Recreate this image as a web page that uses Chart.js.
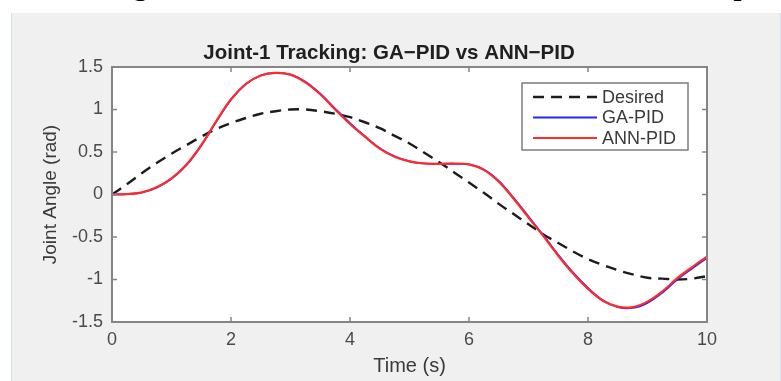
<!DOCTYPE html>
<html>
<head>
<meta charset="utf-8">
<script src="https://cdn.jsdelivr.net/npm/chart.js@4.4.1/dist/chart.umd.min.js"></script>
<style>
html, body { margin: 0; padding: 0; background: #fff; }
body { width: 781px; height: 381px; position: relative; overflow: hidden; }
#caption { position: absolute; left: 0; top: 0; width: 781px; height: 13px; overflow: hidden;
  font-family: "Liberation Serif", "Times New Roman", serif; font-weight: bold; font-size: 28px; line-height: 28px; color: #000; }
#caption span { position: absolute; top: -28px; white-space: nowrap; }
#panel { position: absolute; left: 11px; top: 13px; width: 768px; height: 368px; background: #f0f0f0;
  border-left: 1px solid #d3e0ee; border-right: 1px solid #d3e0ee; }
</style>
</head>
<body>
<div id="caption">
  <span style="left:39px">Tracking</span>
  <span style="left:189px">Error,</span>
  <span style="left:280px">GA,</span>
  <span style="right:32px">and ANN Controller Step</span>
</div>
<div id="panel"><canvas id="trackChart" width="768" height="368"></canvas></div>
<script>
// Joint-1 tracking data (t in s, angle in rad)
const timeS = [0, 0.25, 0.5, 0.75, 1, 1.25, 1.5, 1.75, 2, 2.25, 2.5, 2.75, 3, 3.25, 3.5, 3.75, 4, 4.25, 4.5, 4.75,
	5, 5.25, 5.5, 5.75, 6, 6.25, 6.5, 6.75, 7, 7.25, 7.5, 7.75, 8, 8.25, 8.5, 8.75, 9, 9.25, 9.5, 9.75, 10];
const desired = [0, 0.12, 0.25, 0.37, 0.48, 0.58, 0.68, 0.77, 0.84, 0.90, 0.95, 0.98, 1.0, 1.0, 0.98, 0.95, 0.91, 0.85, 0.78, 0.69,
	0.60, 0.49, 0.38, 0.26, 0.14, 0.02, -0.11, -0.23, -0.35, -0.47, -0.57, -0.67, -0.76, -0.83, -0.89, -0.94, -0.98, -0.99, -1.0, -0.99, -0.96];
const gaPid = [0, 0.004, 0.022, 0.08, 0.185, 0.345, 0.575, 0.855, 1.115, 1.30, 1.40, 1.43, 1.41, 1.325, 1.185, 1.01, 0.84, 0.685, 0.545, 0.45,
	0.39, 0.365, 0.36, 0.36, 0.355, 0.295, 0.16, -0.04, -0.26, -0.48, -0.71, -0.92, -1.10, -1.245, -1.325, -1.335, -1.275, -1.155, -1.0, -0.87, -0.745];
const annPid = [0, 0.005, 0.025, 0.085, 0.19, 0.35, 0.58, 0.86, 1.12, 1.30, 1.40, 1.43, 1.41, 1.32, 1.18, 1.0, 0.83, 0.68, 0.54, 0.445,
	0.39, 0.365, 0.36, 0.365, 0.355, 0.29, 0.15, -0.05, -0.27, -0.49, -0.72, -0.93, -1.11, -1.25, -1.32, -1.325, -1.26, -1.14, -0.985, -0.855, -0.73];
const xTicks = [0, 2, 4, 6, 8, 10];
const xTickLabels = ["0", "2", "4", "6", "8", "10"];
const yTicks = [-1.5, -1, -0.5, 0, 0.5, 1, 1.5];
const yTickLabels = ["-1.5", "-1", "-0.5", "0", "0.5", "1", "1.5"];
const chartTitle = "Joint-1 Tracking: GA\u2212PID vs ANN\u2212PID";

const FONT = '"Liberation Sans", Arial, Helvetica, sans-serif';
const AXIS_GREY = "#858585";

function points(values) {
	return timeS.map((t, i) => ({ x: t, y: values[i] }));
}

// MATLAB style: white axes, box with inward ticks on all sides, title and legend
const matlabFrame = {
	id: "matlabFrame",
	beforeDraw(chart) {
		const { ctx, chartArea: a } = chart;
		ctx.save();
		ctx.fillStyle = "#fff";
		ctx.fillRect(a.left, a.top, a.right - a.left, a.bottom - a.top);
		ctx.restore();
	},
	afterDraw(chart) {
		const { ctx, chartArea: a, scales: { x, y } } = chart;
		ctx.save();
		ctx.strokeStyle = AXIS_GREY;
		ctx.lineWidth = 2;
		ctx.strokeRect(a.left, a.top, a.right - a.left, a.bottom - a.top);
		ctx.lineWidth = 1.5;
		ctx.beginPath();
		xTicks.forEach(v => {
			const px = x.getPixelForValue(v);
			ctx.moveTo(px, a.bottom); ctx.lineTo(px, a.bottom - 5);
			ctx.moveTo(px, a.top); ctx.lineTo(px, a.top + 5);
		});
		yTicks.forEach(v => {
			const py = y.getPixelForValue(v);
			ctx.moveTo(a.left, py); ctx.lineTo(a.left + 5, py);
			ctx.moveTo(a.right, py); ctx.lineTo(a.right - 5, py);
		});
		ctx.stroke();

		// title
		ctx.fillStyle = "#202020";
		ctx.font = "bold 20.5px " + FONT;
		ctx.textAlign = "center";
		ctx.textBaseline = "middle";
		ctx.fillText(chartTitle, 377, 40);

		// legend
		const bx = a.right - 185, by = a.top + 16, bw = 166, bh = 67;
		ctx.fillStyle = "#fff";
		ctx.fillRect(bx, by, bw, bh);
		ctx.strokeStyle = "#7c7c7c";
		ctx.lineWidth = 1.5;
		ctx.strokeRect(bx, by, bw, bh);
		ctx.font = "18px " + FONT;
		ctx.textAlign = "left";
		chart.data.datasets.forEach((ds, i) => {
			const ry = by + 14 + i * 20.5;
			ctx.strokeStyle = ds.borderColor;
			ctx.lineWidth = ds.borderWidth;
			ctx.setLineDash(ds.borderDash || []);
			ctx.beginPath();
			ctx.moveTo(bx + 11, ry);
			ctx.lineTo(bx + 75, ry);
			ctx.stroke();
			ctx.setLineDash([]);
			ctx.fillStyle = "#3a3a3a";
			ctx.fillText(ds.label, bx + 80, ry + 1);
		});
		ctx.restore();
	}
};

new Chart(document.getElementById("trackChart"), {
	type: "line",
	data: {
		datasets: [
			{ label: "Desired", data: points(desired), borderColor: "#1c1c1c", borderWidth: 2.4, borderDash: [11, 7], order: 2 },
			{ label: "GA-PID", data: points(gaPid), borderColor: "#2424ff", borderWidth: 1.8, order: 1 },
			{ label: "ANN-PID", data: points(annPid), borderColor: "#ff2a2a", borderWidth: 2.2, order: 0 }
		]
	},
	options: {
		responsive: false,
		animation: false,
		devicePixelRatio: 1,
		layout: { padding: { top: 54, right: 73, bottom: 0, left: 0 } },
		elements: { point: { radius: 0 }, line: { tension: 0.35, fill: false } },
		plugins: { legend: { display: false }, title: { display: false }, tooltip: { enabled: false } },
		scales: {
			x: {
				type: "linear", min: 0, max: 10,
				grid: { display: false, drawTicks: false }, border: { display: false },
				afterBuildTicks: s => { s.ticks = xTicks.map(v => ({ value: v })); },
				afterFit: s => { s.height = 59; },
				ticks: { padding: 7, color: "#4a4a4a", font: { family: FONT, size: 18 },
					callback: (v) => xTickLabels[xTicks.indexOf(v)] },
				title: { display: true, text: "Time (s)", color: "#3a3a3a", font: { family: FONT, size: 20 },
					padding: { top: 0, bottom: 3 } }
			},
			y: {
				min: -1.5, max: 1.5,
				grid: { display: false, drawTicks: false }, border: { display: false },
				afterBuildTicks: s => { s.ticks = yTicks.map(v => ({ value: v })); },
				afterFit: s => { s.width = 100; },
				ticks: { padding: 9, color: "#4a4a4a", font: { family: FONT, size: 18 },
					callback: (v) => yTickLabels[yTicks.indexOf(v)] },
				title: { display: true, text: "Joint Angle (rad)", color: "#3a3a3a", font: { family: FONT, size: 19 },
					padding: { top: 27, bottom: 0 } }
			}
		}
	},
	plugins: [matlabFrame]
});
</script>
</body>
</html>
